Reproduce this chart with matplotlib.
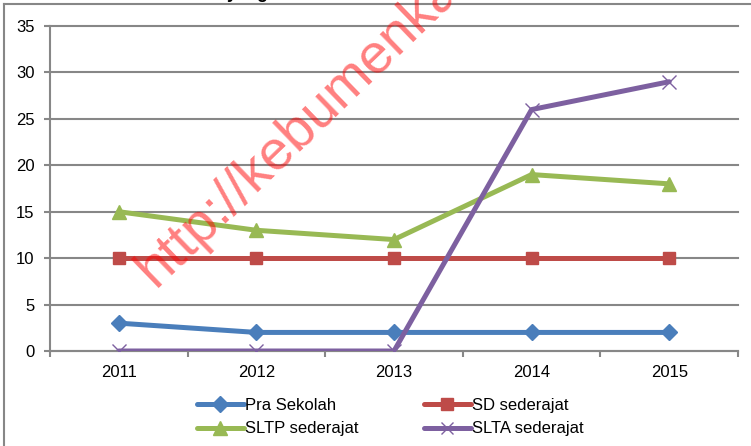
import matplotlib
matplotlib.use('Agg')
import matplotlib.pyplot as plt
from matplotlib.lines import Line2D
from matplotlib.ticker import FixedLocator

years = ['2011', '2012', '2013', '2014', '2015']
pra_sekolah = [3, 2, 2, 2, 2]
sd_sederajat = [10, 10, 10, 10, 10]
sltp_sederajat = [15, 13, 12, 19, 18]
slta_sederajat = [0, 0, 0, 26, 29]
series_names = ['Pra Sekolah', 'SD sederajat', 'SLTP sederajat', 'SLTA sederajat']
y_ticks = [0, 5, 10, 15, 20, 25, 30, 35]

plt.rcParams['font.family'] = ['Liberation Sans', 'DejaVu Sans']

W, H = 751, 446
fig = plt.figure(figsize=(W / 100, H / 100), dpi=100)
fig.patch.set_facecolor('white')

ax = fig.add_axes([50 / W, 1 - 351 / H, (738 - 50) / W, (351 - 26) / H])

gray = '#878787'
x = list(range(len(years)))

styles = [
    dict(color='#4A7EBB', marker='D', markersize=8.5, mec='#4A7EBB'),
    dict(color='#BE4B48', marker='s', markersize=9, mec='#BE4B48'),
    dict(color='#98B954', marker='^', markersize=10.5, mec='#98B954'),
    dict(color='#7D60A0', marker='x', markersize=10, mec='#7D60A0', mew=1.0),
]
data = [pra_sekolah, sd_sederajat, sltp_sederajat, slta_sederajat]
handles = []
for vals, name, st in zip(data, series_names, styles):
    ln, = ax.plot(x, vals, lw=3.6, label=name, solid_capstyle='round', zorder=3, **st)
    handles.append(ln)

ax.set_xlim(-0.5, len(years) - 0.5)
ax.set_ylim(0, 35)
ax.set_yticks(y_ticks)
ax.set_xticks(x)
ax.set_xticklabels(years)
ax.xaxis.set_minor_locator(FixedLocator([i - 0.5 for i in range(len(years) + 1)]))
ax.tick_params(axis='x', which='major', length=0, pad=10, labelsize=12)
ax.tick_params(axis='x', which='minor', length=4, width=1.5, color=gray, direction='out')
ax.tick_params(axis='y', length=4, width=1.5, color=gray, pad=7, labelsize=12)

ax.yaxis.grid(True, color=gray, lw=1.5)
ax.set_axisbelow(True)
for gl in ax.get_ygridlines():
    gl.set_clip_on(False)
for s in ['top', 'right']:
    ax.spines[s].set_visible(False)
for s in ['left', 'bottom']:
    ax.spines[s].set_color(gray)
    ax.spines[s].set_linewidth(1.5)
    ax.spines[s].set_zorder(2.5)

# outer chart frame (left and top edges visible)
fig.add_artist(Line2D([4 / W, 4 / W], [0, 1 - 4 / H], transform=fig.transFigure, color=gray, lw=1.5))
fig.add_artist(Line2D([4 / W, 1], [1 - 4 / H, 1 - 4 / H], transform=fig.transFigure, color=gray, lw=1.5))

# legend filled row by row: (Pra Sekolah, SD) / (SLTP, SLTA)
leg_handles = [handles[0], handles[2], handles[1], handles[3]]
leg = fig.legend(handles=leg_handles, loc='upper left', bbox_to_anchor=(197 / W, 1 - 398 / H),
                 ncol=2, frameon=False, fontsize=12, handlelength=2.8, handletextpad=0.1,
                 columnspacing=3.9, labelspacing=0.5, borderpad=0, borderaxespad=0,
                 numpoints=1, markerscale=0.9)

# partially visible title
fig.text(248 / W, 1 + 2 / H, 'yang', fontsize=13, fontweight='bold', ha='center', va='baseline')

# watermark
fig.text(155 / W, 1 - 288 / H, 'http://kebumenkab.go.id', rotation=44, rotation_mode='anchor',
         color='#FF0000', alpha=0.5, fontsize=40, ha='left', va='baseline', zorder=10)

fig.savefig('out.png', dpi=100, facecolor='white')
